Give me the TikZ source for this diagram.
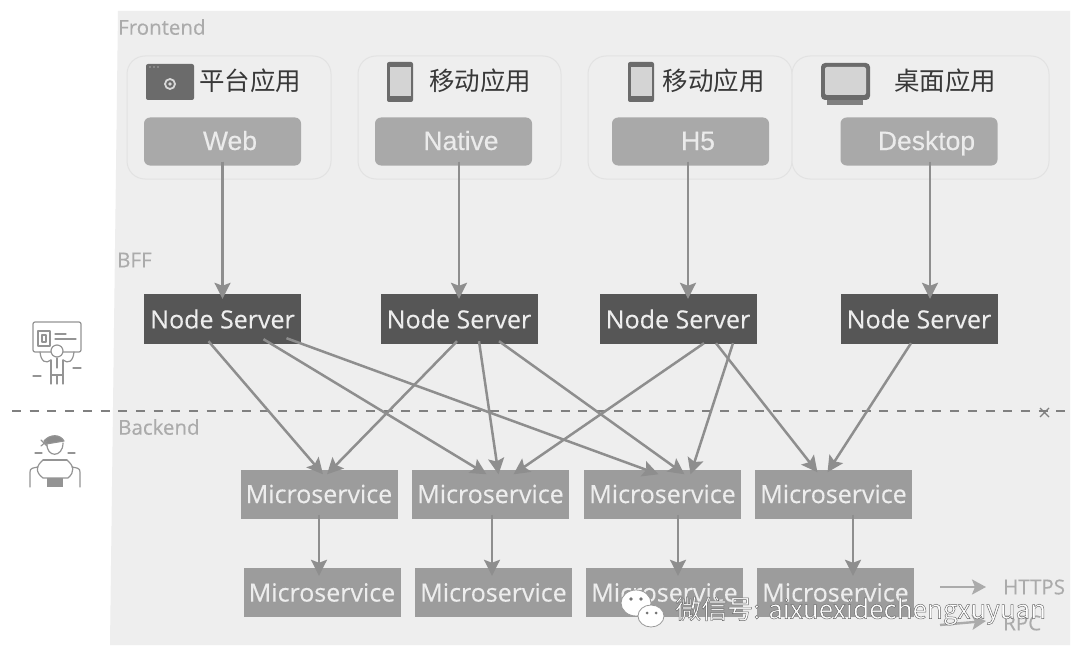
\documentclass[tikz,border=0pt]{standalone}
\usepackage{fontspec}
\setmainfont{Open Sans}
\newfontfamily\cjk{Noto Sans CJK SC}
\newfontfamily\arialfont[FakeBold=0.25]{Liberation Sans}
\newfontfamily\boxfont[FakeBold=0.3]{Open Sans}
\usetikzlibrary{arrows.meta,calc}
\definecolor{panel}{HTML}{EEEEEE}
\definecolor{grp}{HTML}{E2E2E2}
\definecolor{appbox}{HTML}{A9A9A9}
\definecolor{bffbox}{HTML}{565656}
\definecolor{msbox}{HTML}{9C9C9C}
\definecolor{conn}{HTML}{8E8E8E}
\definecolor{lab}{HTML}{ABABAB}
\tikzset{
  grpbox/.style={draw=grp,line width=1pt,rounded corners=18pt,fill=panel},
  appnode/.style={fill=appbox,rounded corners=6pt,minimum width=157pt,minimum height=48pt,inner sep=0pt,text height=19pt,text depth=2pt,text=white!92!black,font=\arialfont\fontsize{26.5}{28}\selectfont},
  bffnode/.style={fill=bffbox,minimum width=157pt,minimum height=50pt,inner sep=0pt,text=white!93!black,font=\boxfont\fontsize{25}{28}\selectfont},
  msnode/.style={fill=msbox,minimum width=157pt,minimum height=49pt,inner sep=0pt,text=white!93!black,font=\boxfont\fontsize{25}{28}\selectfont},
  titletext/.style={inner sep=0pt,text=black!78,font=\cjk\fontsize{25.5}{28}\selectfont},
  zonetext/.style={inner sep=0pt,anchor=west,text=lab,font=\boxfont\fontsize{20.5}{22}\selectfont},
  legendtext/.style={inner sep=0pt,anchor=west,text=lab,font=\boxfont\fontsize{20.5}{22}\selectfont},
  flow/.style={draw=conn,line width=2.5pt,-{Stealth[length=16pt,width=16pt,inset=3pt]}},
  legendflow/.style={draw=lab,line width=2.4pt,-{Stealth[length=14pt,width=15pt,inset=3pt]}},
  icondark/.style={fill=black!58,draw=none},
  iconlight/.style={fill=black!17,draw=none},
  ink/.style={draw=black!42,line width=1.2pt,fill=none,line cap=round,line join=round},
}
\newcommand{\applabel}[1]{\hspace*{15pt}#1}
\begin{document}
\begin{tikzpicture}[x=1pt,y=-1pt]
\useasboundingbox (0,0) rectangle (1080,661);
\fill[white] (0,0) rectangle (1080,661);
% panel
\fill[panel] (118,11) -- (1070,11) -- (1070,645) -- (110,645) -- cycle;
% group frames
\draw[grpbox] (127,56) rectangle (331,179);
\draw[grpbox] (358,56) rectangle (561,179);
\draw[grpbox] (588,56) rectangle (792,179);
\draw[grpbox] (792,56) rectangle (1049,179);
% zone labels
\node[zonetext] (zf) at (118,27) {Frontend};
\node[zonetext] (zb) at (117,260) {BFF};
\node[zonetext] (ze) at (118,427) {Backend};
% divider
\coordinate (divL) at (12,411);
\coordinate (divR) at (1065,411);
\draw[draw=black!50,line width=1.5pt,dash pattern=on 9pt off 8.7pt] (divL) -- (divR);
\draw[draw=black!50,line width=1.1pt] (1040,408) -- (1049,417) (1049,408) -- (1040,417);
% titles
\node[titletext] (t1) at (250,81) {平台应用};
\node[titletext] (t2) at (480,81) {移动应用};
\node[titletext] (t3) at (713.5,81) {移动应用};
\node[titletext] (t4) at (945,81) {桌面应用};
% browser icon
\fill[icondark,rounded corners=2pt] (146,64) rectangle (194,100);
\fill[black!35] (150,67) circle (0.9pt) (154,67) circle (0.9pt) (158,67) circle (0.9pt);
\draw[draw=black!15,line width=1.8pt] (170,84) circle (5pt);
\fill[black!15] (170,84) circle (1.8pt);
% phone icons
\foreach \px in {387,628}{
  \fill[icondark,rounded corners=2pt] (\px,62) rectangle (\px+26,102);
  \fill[iconlight] (\px+2.5,67) rectangle (\px+23.5,96);
}
% monitor icon
\fill[icondark,rounded corners=4pt] (821,63) rectangle (870,100);
\fill[iconlight,rounded corners=2pt] (825,67) rectangle (866,95);
\fill[black!50] (827,100) rectangle (863,105);
% person 1
\draw[ink,rounded corners=2pt] (33,322) rectangle (81,352);
\draw[ink] (38,331) rectangle (50,346);
\draw[ink] (42,335) rectangle (46,342);
\draw[ink] (55,334) -- (66,334) (55,339) -- (76,339);
\draw[ink,fill=white] (57,351) circle (6pt);
\draw[ink] (40,352) .. controls (41,362) and (46,364) .. (51,360);
\draw[ink] (74,352) .. controls (73,362) and (68,364) .. (63,360);
\draw[ink] (51,360) -- (51,384) (63,360) -- (63,384) (57,375) -- (57,384) (51,375) -- (63,375);
\draw[ink] (57,358) -- (57,368);
\draw[ink] (33,376) -- (41,376) (73,368) -- (81,368);
% person 2
\draw[ink,fill=black!45] (44,441) .. controls (50,434) and (60,434) .. (64,441) -- (46,444) -- cycle;
\draw[ink] (41,440) -- (47,446) (41,446) -- (47,441);
\draw[ink] (47,443) .. controls (46,458) and (63,458) .. (63,443);
\draw[ink] (35,453) -- (42,453) (68,453) -- (75,453);
\draw[ink] (43,460) .. controls (36,466) and (35,472) .. (43,478) -- (68,478) .. controls (75,472) and (74,466) .. (67,460);
\draw[ink] (43,460) -- (67,460);
\draw[ink] (30,487) -- (30,472) .. controls (30,468) and (33,468) .. (38,467);
\draw[ink] (80,487) -- (80,472) .. controls (80,468) and (77,468) .. (72,467);
\fill[black!42] (47,478) rectangle (63,487);
% application boxes
\node[appnode] (web) at (222.5,141.5) {\applabel{Web}};
\node[appnode] (native) at (453.5,141.5) {\applabel{Native}};
\node[appnode] (h5) at (690.5,141.5) {\applabel{H5}};
\node[appnode] (desk) at (919,141.5) {\applabel{Desktop}};
% BFF
\node[bffnode] (ns1) at (222.5,319) {Node Server};
\node[bffnode] (ns2) at (459,319) {Node Server};
\node[bffnode] (ns3) at (678,319) {Node Server};
\node[bffnode] (ns4) at (919,319) {Node Server};
% microservices
\node[msnode] (ma) at (319,494) {Microservice};
\node[msnode] (mb) at (490.5,494) {Microservice};
\node[msnode] (mc) at (662.5,494) {Microservice};
\node[msnode] (md) at (833.5,494) {Microservice};
\node[msnode] (na) at (322,592.5) {Microservice};
\node[msnode] (nb) at (493.5,592.5) {Microservice};
\node[msnode] (nc) at (664.5,592.5) {Microservice};
\node[msnode] (nd) at (835.5,592.5) {Microservice};
% app to BFF
\draw[flow] ([yshift=4pt]web.south) -- ([yshift=-5pt]ns1.north);
\draw[flow] ([xshift=5.5pt,yshift=4pt]native.south) -- ([yshift=-5pt]ns2.north);
\draw[flow] ([xshift=-2.5pt,yshift=4pt]h5.south) -- ([xshift=10pt,yshift=-5pt]ns3.north);
\draw[flow] ([xshift=11pt,yshift=4pt]desk.south) -- ([xshift=11pt,yshift=-5pt]ns4.north);
% BFF to microservices
\draw[flow] ([xshift=-14pt,yshift=3pt]ns1.south) -- ([xshift=4pt,yshift=-5pt]ma.north);
\draw[flow] ([xshift=41pt,yshift=5pt]ns1.south) -- ([xshift=-4pt,yshift=-5pt]mb.north);
\draw[flow] ([xshift=64pt,yshift=6pt]ns1.south) -- ([xshift=-4pt,yshift=-5pt]mc.north);
\draw[flow] ([xshift=-2pt,yshift=3pt]ns2.south) -- ([xshift=8pt,yshift=-5pt]ma.north);
\draw[flow] ([xshift=20pt,yshift=3pt]ns2.south) -- ([xshift=8pt,yshift=-5pt]mb.north);
\draw[flow] ([xshift=40pt,yshift=3pt]ns2.south) -- ([xshift=22pt,yshift=-5pt]mc.north);
\draw[flow] ([xshift=26pt,yshift=1pt]ns3.south) -- ([xshift=23pt,yshift=-5pt]mb.north);
\draw[flow] ([xshift=55pt,yshift=1pt]ns3.south) -- ([xshift=28pt,yshift=-5pt]mc.north);
\draw[flow] ([xshift=38pt,yshift=1pt]ns3.south) -- ([xshift=-16pt,yshift=-3pt]md.north);
\draw[flow] ([xshift=-8pt,yshift=1pt]ns4.south) -- ([xshift=-6pt,yshift=-3pt]md.north);
% microservice to microservice
\draw[flow] ([yshift=4pt]ma.south) -- ([xshift=-3pt,yshift=-8pt]na.north);
\draw[flow] ([xshift=1.5pt,yshift=4pt]mb.south) -- ([xshift=-1.5pt,yshift=-8pt]nb.north);
\draw[flow] ([xshift=15.5pt,yshift=4pt]mc.south) -- ([xshift=13.5pt,yshift=-8pt]nc.north);
\draw[flow] ([xshift=19.5pt,yshift=4pt]md.south) -- ([xshift=17.5pt,yshift=-8pt]nd.north);
% legend
\node[legendtext] (lh) at (1003,587) {HTTPS};
\node[legendtext] (lr) at (1003,623) {RPC};
\coordinate (lhs) at (940,587);
\coordinate (lrs) at (940,625);
\draw[legendflow] (lhs) -- ([xshift=-17pt]lh.west);
\draw[legendflow] (lrs) -- ([xshift=-17pt,yshift=2pt]lr.west);
% watermark logo
\fill[white,draw=black!40,line width=0.8pt] (636,603) ellipse (15pt and 13pt);
\fill[white,draw=black!40,line width=0.8pt] (651,616) ellipse (13pt and 11pt);
\fill[black!55] (631,599) circle (1.8pt) (641,599) circle (1.8pt) (647,613) circle (1.5pt) (656,613) circle (1.5pt);
% watermark text
\node[inner sep=0pt,anchor=west,text=white,font=\cjk\fontsize{26}{28}\selectfont] (wm) at (675,611)
  {\special{pdf:code 2 Tr 0.45 w 0.4 G}微信号: aixuexidechengxuyuan\special{pdf:code 0 Tr}};
\end{tikzpicture}
\end{document}
